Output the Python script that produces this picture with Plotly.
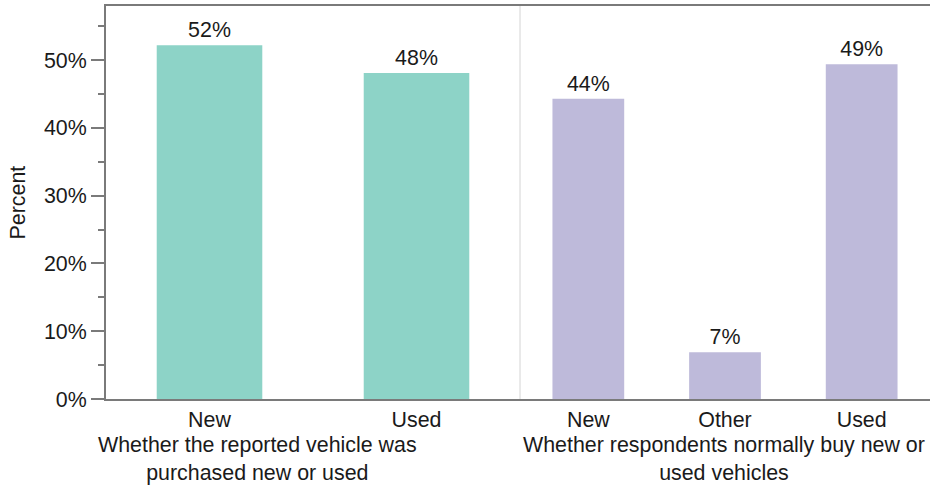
import plotly.graph_objects as go
from plotly.subplots import make_subplots

# Data
cats_left = ["New", "Used"]
vals_left = [52.2, 48.1]
labels_left = ["52%", "48%"]

cats_right = ["New", "Other", "Used"]
vals_right = [44.3, 6.9, 49.4]
labels_right = ["44%", "7%", "49%"]

title_left = "Whether the reported vehicle was<br>purchased new or used"
title_right = "Whether respondents normally buy new or<br>used vehicles"
y_title = "Percent"

FONT = "Liberation Sans, Arial, Helvetica, sans-serif"
FS = 21.4
AX = "#7a7a7a"
TXT = "#1a1a1a"

W, H = 930, 486
L, R, T, B = 106, 0, 6, 87
pw = W - L - R
split = (520 - L) / pw

fig = make_subplots(rows=1, cols=2, shared_yaxes=True, horizontal_spacing=0)

fig.add_trace(go.Bar(x=cats_left, y=vals_left, text=labels_left, textposition="outside",
                     marker=dict(color="#8dd3c7", line=dict(width=0)), width=0.51,
                     textfont=dict(size=FS, color=TXT, family=FONT), cliponaxis=False,
                     hoverinfo="x+y"), row=1, col=1)
fig.add_trace(go.Bar(x=cats_right, y=vals_right, text=labels_right, textposition="outside",
                     marker=dict(color="#bebada", line=dict(width=0)), width=0.525,
                     textfont=dict(size=FS, color=TXT, family=FONT), cliponaxis=False,
                     hoverinfo="x+y"), row=1, col=2)

xcommon = dict(showline=True, linecolor=AX, linewidth=2, mirror=True, ticks="",
               showgrid=False, zeroline=False, tickfont=dict(size=FS, color=TXT, family=FONT),
               fixedrange=True, automargin=False)
fig.update_layout(
    xaxis=dict(domain=[0, split], **xcommon),
    xaxis2=dict(domain=[split, 1], **xcommon),
    yaxis=dict(range=[0, 58], dtick=10, ticksuffix="%", showline=True, linecolor=AX,
               linewidth=2, ticks="outside", ticklen=13, tickwidth=2, tickcolor=AX,
               minor=dict(dtick=5, ticks="outside", ticklen=6, tickwidth=2, tickcolor=AX),
               showgrid=False, zeroline=False, automargin=False,
               tickfont=dict(size=FS, color=TXT, family=FONT)),
    yaxis2=dict(range=[0, 58], showline=False, ticks="", showgrid=False, zeroline=False,
                showticklabels=False, automargin=False),
    width=W, height=H,
    margin=dict(l=L, r=R, t=T, b=B, autoexpand=False),
    paper_bgcolor="white", plot_bgcolor="white",
    showlegend=False, bargap=0.5,
    font=dict(family=FONT, size=FS, color=TXT),
)

fig.add_shape(type="line", xref="paper", yref="paper", x0=split, x1=split, y0=0, y1=1,
              line=dict(color="#d4d4d4", width=1))

fig.add_annotation(text=title_left, xref="paper", yref="paper", x=(257 - L) / pw, y=0,
                   xanchor="center", yanchor="top", yshift=-32, showarrow=False,
                   font=dict(size=FS, color=TXT, family=FONT), align="center")
fig.add_annotation(text=title_right, xref="paper", yref="paper", x=(724 - L) / pw, y=0,
                   xanchor="center", yanchor="top", yshift=-32, showarrow=False,
                   font=dict(size=FS, color=TXT, family=FONT), align="center")
fig.add_annotation(text=y_title, xref="paper", yref="paper", x=(17 - L) / pw, y=0.5,
                   xanchor="center", yanchor="middle", textangle=-90, showarrow=False,
                   font=dict(size=FS, color=TXT, family=FONT))

fig.write_html("out.html", config={"displayModeBar": False},
               post_script="document.body.style.margin='0';document.body.style.overflow='hidden';")
